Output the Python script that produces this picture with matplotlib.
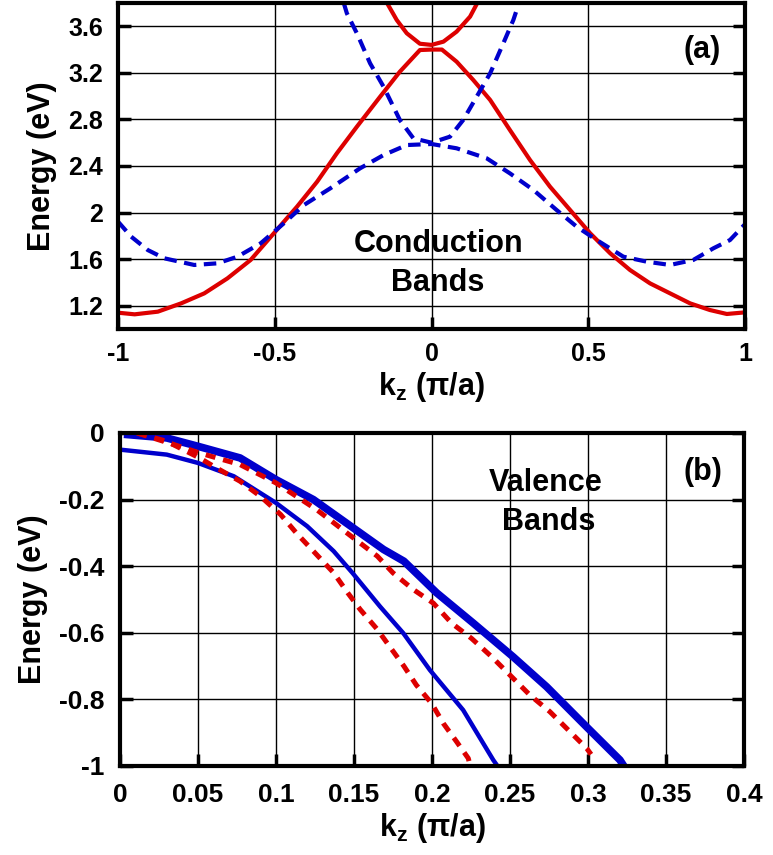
import matplotlib
matplotlib.use("Agg")
import matplotlib.pyplot as plt

plt.rcParams['font.family'] = ['Liberation Sans', 'DejaVu Sans']
plt.rcParams['font.weight'] = 'bold'
plt.rcParams['mathtext.fontset'] = 'custom'
plt.rcParams['mathtext.rm'] = 'Liberation Sans:bold'
plt.rcParams['mathtext.bf'] = 'Liberation Sans:bold'
plt.rcParams['mathtext.it'] = 'Liberation Sans:bold'

# ---------------- (a) conduction bands ----------------
cb_red_low_k = [-1, -0.947, -0.873, -0.799, -0.725, -0.651, -0.577, -0.503, -0.429, -0.365,
                -0.302, -0.238, -0.164, -0.101, -0.037, 0, 0.033, 0.08, 0.133, 0.187, 0.25,
                0.314, 0.378, 0.442, 0.506, 0.57, 0.633, 0.697, 0.761, 0.825, 0.888, 0.942, 1.0]
cb_red_low_E = [1.14, 1.126, 1.149, 1.22, 1.306, 1.435, 1.593, 1.822, 2.051, 2.265,
                2.509, 2.738, 2.995, 3.21, 3.396, 3.40, 3.40, 3.296, 3.139, 2.967, 2.709,
                2.452, 2.222, 2.022, 1.822, 1.65, 1.507, 1.392, 1.306, 1.22, 1.163, 1.129, 1.143]

cb_red_up_k = [-0.142, -0.111, -0.079, -0.037, 0, 0.038, 0.08, 0.123, 0.146]
cb_red_up_E = [3.80, 3.654, 3.54, 3.45, 3.44, 3.468, 3.554, 3.683, 3.80]

cb_blue_low_k = [-1, -0.958, -0.905, -0.852, -0.757, -0.683, -0.619, -0.545, -0.471, -0.407,
                 -0.323, -0.228, -0.153, -0.079, 0, 0.08, 0.176, 0.25, 0.325, 0.399, 0.463,
                 0.527, 0.612, 0.687, 0.761, 0.835, 0.899, 0.952, 1.0]
cb_blue_low_E = [1.922, 1.793, 1.678, 1.607, 1.55, 1.564, 1.621, 1.736, 1.908, 2.065,
                 2.208, 2.38, 2.494, 2.58, 2.589, 2.552, 2.466, 2.337, 2.194, 2.022, 1.879,
                 1.764, 1.621, 1.578, 1.55, 1.593, 1.693, 1.764, 1.90]

cb_blue_up_k = [-0.28, -0.27, -0.238, -0.196, -0.153, -0.101, -0.058, 0, 0.059, 0.101,
                0.144, 0.187, 0.229, 0.261, 0.277]
cb_blue_up_E = [3.80, 3.711, 3.539, 3.282, 3.081, 2.795, 2.638, 2.60, 2.652, 2.795,
                2.995, 3.196, 3.454, 3.654, 3.783]

a_xticks = [-1, -0.5, 0, 0.5, 1]
a_xlabels = ['-1', '-0.5', '0', '0.5', '1']
a_yticks = [1.2, 1.6, 2.0, 2.4, 2.8, 3.2, 3.6]
a_ylabels = ['1.2', '1.6', '2', '2.4', '2.8', '3.2', '3.6']

# ---------------- (b) valence bands ----------------
vb_blue_thin_k = [0, 0.03, 0.05, 0.073, 0.10, 0.12, 0.137, 0.149, 0.1667, 0.1816, 0.1987,
                  0.22, 0.2393, 0.242]
vb_blue_thin_E = [-0.05, -0.065, -0.09, -0.13, -0.21, -0.28, -0.355, -0.42, -0.521, -0.601,
                  -0.712, -0.832, -0.982, -1.0]

vb_blue_thick_k = [0.005, 0.03, 0.05, 0.077, 0.10, 0.124, 0.151, 0.169, 0.182, 0.203,
                   0.2265, 0.252, 0.2735, 0.299, 0.3205, 0.323]
vb_blue_thick_E = [-0.005, -0.015, -0.04, -0.075, -0.14, -0.20, -0.29, -0.35, -0.385, -0.48,
                   -0.571, -0.672, -0.762, -0.882, -0.982, -1.0]

vb_red_up_k = [0.011, 0.038, 0.051, 0.077, 0.10, 0.126, 0.151, 0.165, 0.175, 0.188, 0.2009,
               0.2126, 0.2254, 0.2383, 0.25, 0.2628, 0.2756, 0.2874, 0.2992, 0.302]
vb_red_up_E = [0.0, -0.04, -0.06, -0.095, -0.15, -0.23, -0.32, -0.37, -0.42, -0.47, -0.511,
               -0.571, -0.617, -0.672, -0.727, -0.787, -0.837, -0.892, -0.947, -0.965]

vb_red_low_k = [0.011, 0.03, 0.051, 0.06, 0.077, 0.09, 0.103, 0.113, 0.124, 0.137, 0.146,
                0.154, 0.165, 0.173, 0.182, 0.19, 0.1998, 0.2073, 0.2158, 0.2233, 0.2245]
vb_red_low_E = [0.0, -0.025, -0.075, -0.10, -0.145, -0.19, -0.245, -0.30, -0.355, -0.42,
                -0.48, -0.53, -0.59, -0.642, -0.70, -0.757, -0.812, -0.872, -0.927, -0.977, -1.0]

b_xticks = [0, 0.05, 0.1, 0.15, 0.2, 0.25, 0.3, 0.35, 0.4]
b_xlabels = ['0', '0.05', '0.1', '0.15', '0.2', '0.25', '0.3', '0.35', '0.4']
b_yticks = [-1, -0.8, -0.6, -0.4, -0.2, 0]
b_ylabels = ['-1', '-0.8', '-0.6', '-0.4', '-0.2', '0']

RED = '#dd0000'
BLUE = '#0000cc'

fig = plt.figure(figsize=(7.73, 8.55), dpi=100)
ax1 = fig.add_axes([0.1527, 0.6152, 0.8111, 0.3813])
ax2 = fig.add_axes([0.1552, 0.1041, 0.8072, 0.3895])


def style(ax, xt, xl, yt, yl, tsize, xpad, ypad):
    ax.set_xticks(xt)
    ax.set_xticklabels(xl)
    ax.set_yticks(yt)
    ax.set_yticklabels(yl)
    ax.grid(True, color='black', linewidth=1.0)
    ax.set_axisbelow(True)
    for s in ax.spines.values():
        s.set_linewidth(3.0)
    ax.tick_params(axis='both', direction='in', length=9, width=2.5, labelsize=tsize)
    ax.tick_params(axis='x', pad=xpad, top=False, bottom=True)
    ax.tick_params(axis='y', pad=ypad, right=True, left=True)
    for lab in ax.get_xticklabels() + ax.get_yticklabels():
        lab.set_fontweight('bold')
    ax.set_ylabel('Energy (eV)', fontsize=22, fontweight='bold', labelpad=8)
    ax.set_xlabel(r'$\mathbf{k_z}$ (π/a)', fontsize=22, fontweight='bold', labelpad=3)


# (a)
ax1.plot(cb_red_low_k, cb_red_low_E, color=RED, lw=3.0)
ax1.plot(cb_red_up_k, cb_red_up_E, color=RED, lw=3.0)
ax1.plot(cb_blue_low_k, cb_blue_low_E, color=BLUE, lw=3.0, linestyle=(0, (3.0, 1.8)))
ax1.plot(cb_blue_up_k, cb_blue_up_E, color=BLUE, lw=3.0, linestyle=(0, (3.0, 1.8)))
ax1.set_xlim(-1, 1)
ax1.set_ylim(1.0, 3.8)
style(ax1, a_xticks, a_xlabels, a_yticks, a_ylabels, 18, 9, 11)
ax1.text(0.021, 1.73, 'Conduction', ha='center', va='center', fontsize=22, fontweight='bold')
ax1.text(0.021, 1.395, 'Bands', ha='center', va='center', fontsize=22, fontweight='bold')
ax1.text(0.863, 3.396, '(a)', ha='center', va='center', fontsize=22, fontweight='bold')

# (b)
ax2.plot(vb_blue_thin_k, vb_blue_thin_E, color=BLUE, lw=3.2)
ax2.plot(vb_blue_thick_k, vb_blue_thick_E, color=BLUE, lw=5.5)
ax2.plot(vb_red_up_k, vb_red_up_E, color=RED, lw=3.6, linestyle=(0, (2.0, 1.6)))
ax2.plot(vb_red_low_k, vb_red_low_E, color=RED, lw=3.6, linestyle=(0, (2.0, 1.6)))
ax2.set_xlim(0, 0.4)
ax2.set_ylim(-1, 0)
style(ax2, b_xticks, b_xlabels, b_yticks, b_ylabels, 19, 12, 11)
ax2.text(0.273, -0.15, 'Valence', ha='center', va='center', fontsize=22, fontweight='bold')
ax2.text(0.275, -0.267, 'Bands', ha='center', va='center', fontsize=22, fontweight='bold')
ax2.text(0.374, -0.117, '(b)', ha='center', va='center', fontsize=22, fontweight='bold')

fig.savefig('out.png', dpi=100)
